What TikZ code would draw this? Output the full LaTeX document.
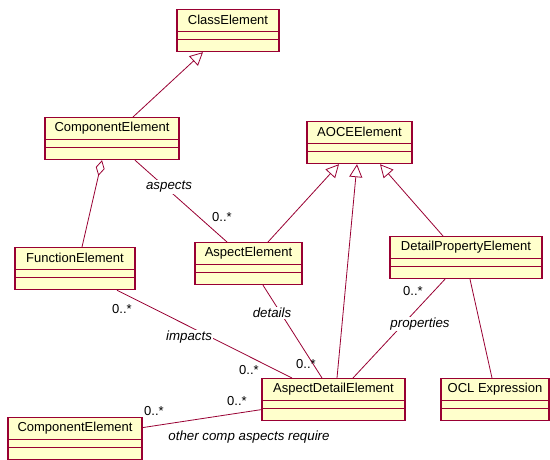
\documentclass[tikz,border=0pt]{standalone}
\usepackage{fontspec}
\setmainfont{Liberation Sans}
\usetikzlibrary{arrows.meta}
\definecolor{umlred}{HTML}{990033}
\definecolor{umlfill}{HTML}{FFFFCC}
\tikzset{
 cls/.style={draw=umlred, fill=umlfill, line width=1.2pt, rectangle, inner sep=0pt},
 clsline/.style={draw=umlred, line width=0.7pt},
 clstext/.style={font=\fontsize{13}{15}\selectfont, inner sep=0pt},
 assoc/.style={draw=umlred, line width=0.8pt},
 gen/.style={assoc, -{Triangle[length=13pt, width=13pt, fill=white]}},
 agg/.style={assoc, {Diamond[length=16pt, width=9pt, fill=white]}-},
 rolelbl/.style={font=\fontsize{13.3}{15}\selectfont\itshape, inner sep=1pt, fill=white},
 mult/.style={font=\fontsize{13}{15}\selectfont, inner sep=0pt},
}
\newcommand{\umlclass}[5]{%
 \node[cls, minimum width=#4pt, minimum height=42pt, anchor=north] (#1) at (#2,#3) {};
 \draw[clsline] ([yshift=-22pt]#1.north west) -- ([yshift=-22pt]#1.north east);
 \draw[clsline] ([yshift=-30pt]#1.north west) -- ([yshift=-30pt]#1.north east);
 \node[clstext] (#1t) at ([yshift=-11pt]#1.north) {#5};
}
\begin{document}
\begin{tikzpicture}[x=1pt,y=-1pt]
\useasboundingbox[fill=white] (0,0) rectangle (550,460);
\umlclass{ce}{228}{9}{102}{ClassElement}
\umlclass{comp}{112}{117}{134}{ComponentElement}
\umlclass{aoce}{359.5}{121}{105}{AOCEElement}
\umlclass{func}{75}{247}{120}{FunctionElement}
\umlclass{asp}{248.5}{242}{107}{AspectElement}
\umlclass{dpe}{466}{236}{152}{DetailPropertyElement}
\umlclass{comp2}{75}{417}{134}{ComponentElement}
\umlclass{ade}{333.5}{378}{143}{AspectDetailElement}
\umlclass{ocl}{495}{378}{108}{OCL Expression}

\draw[gen] ([xshift=21pt]comp.north) -- ([xshift=-25pt]ce.south);
\draw[agg] ([xshift=-10pt]comp.south) -- ([xshift=7pt]func.north);
\draw[assoc] ([xshift=23pt]comp.south) -- ([xshift=-21.5pt]asp.north);
\draw[gen] ([xshift=19.5pt]asp.north) -- ([xshift=-20.5pt]aoce.south);
\draw[gen] ([xshift=3.5pt]ade.north) -- ([xshift=-2.5pt]aoce.south);
\draw[gen] ([xshift=-23pt]dpe.north) -- ([xshift=20.5pt]aoce.south);
\draw[assoc] ([xshift=42pt]func.south) -- ([xshift=-41.5pt]ade.north);
\draw[assoc] ([xshift=14.5pt]asp.south) -- ([xshift=-11.5pt]ade.north);
\draw[assoc] ([xshift=-21pt]dpe.south) -- ([xshift=19.5pt]ade.north);
\draw[assoc] ([xshift=4pt]dpe.south) -- ([xshift=-3pt]ocl.north);
\draw[assoc] ([yshift=11pt]comp2.east) -- ([yshift=-10pt]ade.west);

\node[rolelbl] (l1) at (169,187) {aspects};
\node[mult] (m1) at (222,217) {0..*};
\node[mult] (m2) at (122,309) {0..*};
\node[rolelbl] (l2) at (189,337) {impacts};
\node[mult] (m3) at (249,370) {0..*};
\node[rolelbl] (l3) at (272,313) {details};
\node[mult] (m4) at (306,364) {0..*};
\node[mult] (m5) at (413,291) {0..*};
\node[rolelbl] (l4) at (420,324) {properties};
\node[mult] (m6) at (154,411) {0..*};
\node[mult] (m7) at (237,401) {0..*};
\node[rolelbl] (l5) at (249,437) {other comp aspects require};
\end{tikzpicture}
\end{document}
